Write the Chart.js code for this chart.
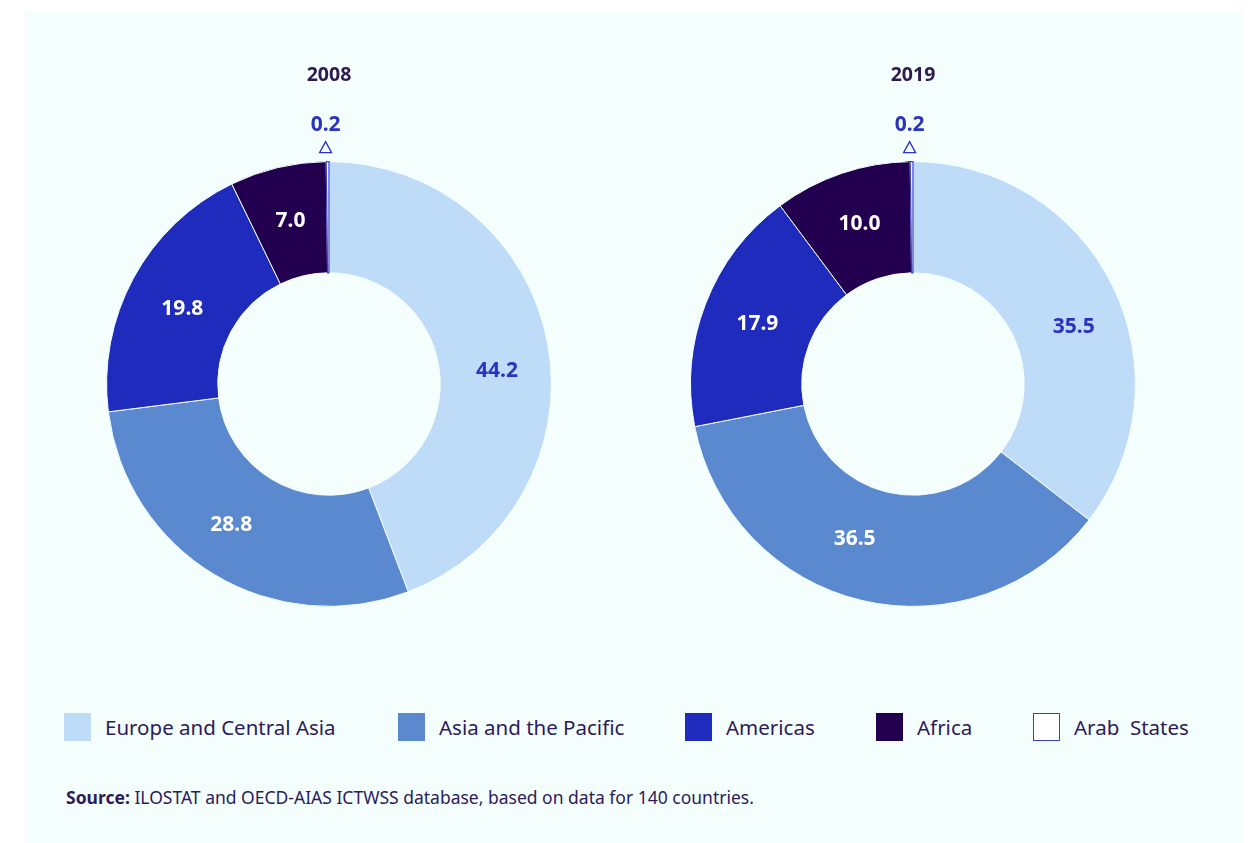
<!DOCTYPE html>
<html>
<head>
<meta charset="utf-8">
<script src="https://cdn.jsdelivr.net/npm/chart.js@4"></script>
<style>
  body { margin: 0; width: 1253px; height: 843px; background: #fff; position: relative; overflow: hidden; font-family: "Noto Sans", sans-serif; }
  #panel { position: absolute; left: 25px; top: 12px; width: 1218px; height: 831px; background: #f4fefd; }
  .chartBox { position: absolute; top: 50px; width: 500px; height: 560px; }
  .chartBox canvas { display: block; }
  .leg { position: absolute; top: 713px; display: flex; align-items: center; font-size: 20.5px; color: #2d1b5a; }
  .leg span.sw { display: inline-block; width: 27px; height: 28px; margin-right: 14px; box-sizing: border-box; }
  #source { position: absolute; left: 66px; top: 785px; font-size: 17.5px; color: #2d1b5a; }
</style>
</head>
<body>
<div id="panel"></div>
<div class="chartBox" style="left:79px"><canvas id="myChart" width="500" height="560"></canvas></div>
<div class="chartBox" style="left:663px"><canvas id="myChart2" width="500" height="560"></canvas></div>
<div id="legend"></div>
<div id="source"><b>Source:</b> ILOSTAT and OECD-AIAS ICTWSS database, based on data for 140 countries.</div>
<script>
var regions = ['Europe and Central Asia', 'Asia and the Pacific', 'Americas', 'Africa', 'Arab  States'];
var years = ['2008', '2019'];
var values2008 = [44.2, 28.8, 19.8, 7.0, 0.2];
var values2019 = [35.5, 36.5, 17.9, 10.0, 0.2];

var colors = ['#bedcf8', '#5b89cf', '#1e2bbd', '#22004f', '#ffffff'];
var borders = ['#f4fefd', '#f4fefd', '#f4fefd', '#f4fefd', '#3a40c8'];
var labelBlue = '#2a33c0';
var darkText = '#2d1b4f';

// small hand nudges for the value labels (px), like the original layout
var nudge2008 = [[4, 17], [-12, -2], [0, 4], [0, -1], [0, 0]];
var nudge2019 = [[11, 17], [-20, -7], [0, 0], [0, -2], [0, 0]];

var sliceLabels = {
  id: 'sliceLabels',
  afterDatasetsDraw: function(chart, args, opts) {
    var ctx = chart.ctx;
    var meta = chart.getDatasetMeta(0);
    var vals = chart.data.datasets[0].data;
    ctx.save();
    ctx.textAlign = 'center';
    ctx.textBaseline = 'middle';
    ctx.font = 'bold 21px "Noto Sans"';
    meta.data.forEach(function(arc, i) {
      var v = vals[i];
      if (v < 1) {
        var ang = (arc.startAngle + arc.endAngle) / 2;
        var px = arc.x + Math.cos(ang) * arc.outerRadius;
        var py = arc.y + Math.sin(ang) * arc.outerRadius;
        ctx.fillStyle = labelBlue;
        ctx.fillText(v.toFixed(1), px - 2, py - 37);
        // small triangle marker
        ctx.strokeStyle = labelBlue;
        ctx.lineWidth = 1.3;
        ctx.beginPath();
        ctx.moveTo(px - 2, py - 20);
        ctx.lineTo(px - 8, py - 9);
        ctx.lineTo(px + 4, py - 9);
        ctx.closePath();
        ctx.stroke();
      } else {
        var p = arc.tooltipPosition();
        var n = opts.nudge[i];
        ctx.fillStyle = i === 0 ? labelBlue : '#ffffff';
        ctx.fillText(v.toFixed(1), p.x + n[0], p.y + n[1]);
      }
    });
    ctx.fillStyle = darkText;
    ctx.font = 'bold 19.5px "Noto Sans"';
    var ca = chart.chartArea;
    ctx.fillText(opts.title, (ca.left + ca.right) / 2, ca.top - 86);
    ctx.restore();
  }
};

function makeChart(id, vals, title, nudge) {
  var ctx = document.getElementById(id).getContext('2d');
  return new Chart(ctx, {
    type: 'doughnut',
    data: {
      labels: regions,
      datasets: [{
        data: vals,
        backgroundColor: colors,
        borderColor: borders,
        borderWidth: [1, 1, 1, 1, 1.2],
        borderJoinStyle: 'miter'
      }]
    },
    options: {
      responsive: false,
      maintainAspectRatio: false,
      animation: false,
      events: [],
      cutout: '50%',
      layout: { padding: { left: 27, right: 27, top: 111, bottom: 3 } },
      plugins: {
        legend: { display: false },
        tooltip: { enabled: false },
        sliceLabels: { title: title, nudge: nudge }
      }
    },
    plugins: [sliceLabels]
  });
}

var myChart = makeChart('myChart', values2008, years[0], nudge2008);
var myChart2 = makeChart('myChart2', values2019, years[1], nudge2019);

// legend
var legendLefts = [64, 398, 685, 876, 1033];
var legend = document.getElementById('legend');
regions.forEach(function(r, i) {
  var d = document.createElement('div');
  d.className = 'leg';
  d.style.left = legendLefts[i] + 'px';
  var sw = document.createElement('span');
  sw.className = 'sw';
  sw.style.background = colors[i];
  if (i === 4) sw.style.border = '1.5px solid ' + borders[4];
  d.appendChild(sw);
  var t = document.createElement('span');
  t.textContent = r;
  t.style.whiteSpace = 'pre';
  d.appendChild(t);
  legend.appendChild(d);
});
</script>
</body>
</html>
